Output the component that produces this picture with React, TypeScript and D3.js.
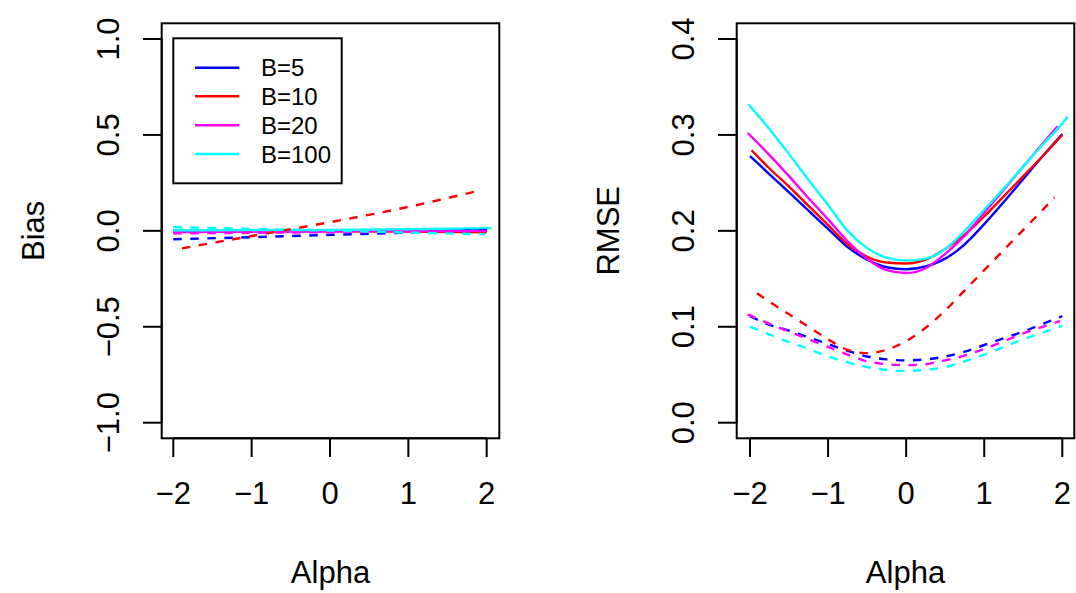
import React from "react";
import * as d3 from "d3";

// ---------- data ----------
const seriesNames = ["B=5", "B=10", "B=20", "B=100"];
const seriesColors = ["#0000ff", "#ff0000", "#ff00ff", "#00ffff"];

const xTicks = [-2, -1, 0, 1, 2];
const biasTicks = [-1, -0.5, 0, 0.5, 1];
const biasTickLabels = ["\u22121.0", "\u22120.5", "0.0", "0.5", "1.0"];
const rmseTicks = [0, 0.1, 0.2, 0.3, 0.4];
const rmseTickLabels = ["0.0", "0.1", "0.2", "0.3", "0.4"];
const xTickLabels = ["\u22122", "\u22121", "0", "1", "2"];

// Bias panel
const biasAlpha = [-2, -1, 0, 1, 2];
const biasAlphaB10Dash = [-1.89, -1, 0, 1, 1.936];
const biasAlphaB100 = [-2, -1, 0, 1, 2.06];
const biasAlphaB100Dash = [-2, -1, 0, 1, 1.98];
const biasSolidB5 = [-0.004, -0.002, 0.0, 0.003, 0.009];
const biasSolidB10 = [0.002, 0.0, -0.002, -0.004, -0.008];
const biasSolidB20 = [-0.006, -0.004, -0.003, -0.002, 0.0];
const biasSolidB100 = [0.003, 0.004, 0.005, 0.008, 0.014];
const biasDashB5 = [-0.044, -0.033, -0.021, -0.009, 0.004];
const biasDashB10 = [-0.091, -0.027, 0.045, 0.125, 0.213];
const biasDashB20 = [-0.013, -0.01, -0.007, -0.004, -0.001];
const biasDashB100 = [0.02, 0.01, 0.001, -0.009, -0.018];

// RMSE panel
const grid = [-2, -1.75, -1.5, -1.25, -1, -0.75, -0.5, -0.25, 0, 0.25, 0.5, 0.75, 1, 1.25, 1.5, 1.75, 2];
const gridB10 = [-1.98, -1.75, -1.5, -1.25, -1, -0.75, -0.5, -0.25, 0, 0.25, 0.5, 0.75, 1, 1.25, 1.5, 1.75, 2];
const gridB20 = [-2.03, -1.75, -1.5, -1.25, -1, -0.75, -0.5, -0.25, 0, 0.25, 0.5, 0.75, 1, 1.25, 1.5, 1.75, 1.94];
const gridB100 = [-2.02, -1.75, -1.5, -1.25, -1, -0.75, -0.5, -0.25, 0, 0.25, 0.5, 0.75, 1, 1.25, 1.5, 1.75, 2, 2.07];
const gridB10Dash = [-1.91, -1.75, -1.5, -1.25, -1, -0.75, -0.5, -0.25, 0, 0.25, 0.5, 0.75, 1, 1.25, 1.5, 1.75, 1.9];
const gridB20Dash = [-2.03, -1.75, -1.5, -1.25, -1, -0.75, -0.5, -0.25, 0, 0.25, 0.5, 0.75, 1, 1.25, 1.5, 1.75, 1.97];

const rmseSolidB5 = [0.278, 0.259, 0.24, 0.221, 0.202, 0.183, 0.17, 0.162, 0.16, 0.163, 0.171, 0.186, 0.207, 0.23, 0.254, 0.278, 0.301];
const rmseSolidB10 = [0.284, 0.265, 0.246, 0.226, 0.206, 0.186, 0.173, 0.167, 0.166, 0.17, 0.181, 0.196, 0.215, 0.236, 0.257, 0.278, 0.3];
const rmseSolidB20 = [0.302, 0.279, 0.257, 0.234, 0.212, 0.189, 0.171, 0.159, 0.156, 0.161, 0.176, 0.195, 0.219, 0.243, 0.267, 0.291, 0.309];
const rmseSolidB100 = [0.332, 0.306, 0.28, 0.253, 0.227, 0.2, 0.182, 0.172, 0.169, 0.171, 0.181, 0.2, 0.222, 0.244, 0.267, 0.29, 0.312, 0.319];
const rmseDashB5 = [0.111, 0.102, 0.096, 0.089, 0.082, 0.075, 0.069, 0.066, 0.065, 0.066, 0.069, 0.074, 0.081, 0.088, 0.095, 0.103, 0.111];
const rmseDashB10 = [0.135, 0.126, 0.113, 0.1, 0.087, 0.076, 0.0725, 0.076, 0.085, 0.099, 0.117, 0.138, 0.159, 0.18, 0.201, 0.222, 0.235];
const rmseDashB20 = [0.113, 0.103, 0.095, 0.087, 0.079, 0.071, 0.064, 0.061, 0.06, 0.061, 0.065, 0.07, 0.077, 0.085, 0.093, 0.1, 0.106];
const rmseDashB100 = [0.1, 0.092, 0.084, 0.077, 0.069, 0.063, 0.058, 0.055, 0.054, 0.055, 0.058, 0.064, 0.071, 0.079, 0.087, 0.094, 0.101];

// ---------- layout ----------
const W = 1076;
const H = 593;
const FONT = "'Liberation Sans', Arial, Helvetica, sans-serif";
const FS = 31;
const LWD = 2.4;
const DASH = "8.5,8.5";

type Panel = {
  left: number; right: number; top: number; bottom: number;
  x: d3.ScaleLinear<number, number>; y: d3.ScaleLinear<number, number>;
};

const pLeft: Panel = {
  left: 161.7, right: 499.3, top: 23.3, bottom: 438.3,
  x: d3.scaleLinear().domain([-2, 2]).range([173.3, 486.7]),
  y: d3.scaleLinear().domain([-1, 1]).range([422.7, 39]),
};
const pRight: Panel = {
  left: 736.7, right: 1074.3, top: 23.3, bottom: 438.3,
  x: d3.scaleLinear().domain([-2, 2]).range([750, 1062.3]),
  y: d3.scaleLinear().domain([0, 0.4]).range([422.7, 39]),
};

function pathFor(p: Panel, xs: number[], ys: number[]) {
  const gen = d3.line<number>().x((_, i) => p.x(xs[i])).y((v) => p.y(v)).curve(d3.curveMonotoneX);
  return gen(ys) || "";
}

type S = { xs: number[]; ys: number[]; color: string; dashed: boolean };

const biasSeries: S[] = [
  { xs: biasAlpha, ys: biasSolidB5, color: seriesColors[0], dashed: false },
  { xs: biasAlpha, ys: biasSolidB10, color: seriesColors[1], dashed: false },
  { xs: biasAlpha, ys: biasSolidB20, color: seriesColors[2], dashed: false },
  { xs: biasAlphaB100, ys: biasSolidB100, color: seriesColors[3], dashed: false },
  { xs: biasAlpha, ys: biasDashB5, color: seriesColors[0], dashed: true },
  { xs: biasAlphaB10Dash, ys: biasDashB10, color: seriesColors[1], dashed: true },
  { xs: biasAlpha, ys: biasDashB20, color: seriesColors[2], dashed: true },
  { xs: biasAlphaB100Dash, ys: biasDashB100, color: seriesColors[3], dashed: true },
];

const rmseSeries: S[] = [
  { xs: grid, ys: rmseSolidB5, color: seriesColors[0], dashed: false },
  { xs: gridB10, ys: rmseSolidB10, color: seriesColors[1], dashed: false },
  { xs: gridB20, ys: rmseSolidB20, color: seriesColors[2], dashed: false },
  { xs: gridB100, ys: rmseSolidB100, color: seriesColors[3], dashed: false },
  { xs: grid, ys: rmseDashB5, color: seriesColors[0], dashed: true },
  { xs: gridB10Dash, ys: rmseDashB10, color: seriesColors[1], dashed: true },
  { xs: gridB20Dash, ys: rmseDashB20, color: seriesColors[2], dashed: true },
  { xs: grid, ys: rmseDashB100, color: seriesColors[3], dashed: true },
];

function PanelView({ p, series, yTicks, yLabels, yTitle, id }: {
  p: Panel; series: S[]; yTicks: number[]; yLabels: string[]; yTitle: string; id: string;
}) {
  const tick = 18.7;
  const yLabX = p.left - 43;
  const yTitleX = p.left - 118;
  const cy = (p.top + p.bottom) / 2;
  const cx = (p.left + p.right) / 2;
  return (
    <g>
      <defs>
        <clipPath id={id}>
          <rect x={p.left} y={p.top} width={p.right - p.left} height={p.bottom - p.top} />
        </clipPath>
      </defs>
      <g clipPath={`url(#${id})`}>
        {series.map((s, i) => (
          <path key={i} d={pathFor(p, s.xs, s.ys)} fill="none" stroke={s.color}
            strokeWidth={LWD} strokeDasharray={s.dashed ? DASH : undefined} />
        ))}
      </g>
      <rect x={p.left} y={p.top} width={p.right - p.left} height={p.bottom - p.top}
        fill="none" stroke="#000" strokeWidth={2} />
      {/* x axis */}
      <line x1={p.x(xTicks[0])} x2={p.x(xTicks[xTicks.length - 1])} y1={p.bottom} y2={p.bottom} stroke="#000" strokeWidth={2} />
      {xTicks.map((t, i) => (
        <g key={i}>
          <line x1={p.x(t)} x2={p.x(t)} y1={p.bottom} y2={p.bottom + tick} stroke="#000" strokeWidth={2} />
          <text x={p.x(t)} y={p.bottom + 66} textAnchor="middle" fontSize={FS} fontFamily={FONT}>{xTickLabels[i]}</text>
        </g>
      ))}
      {/* y axis */}
      <line x1={p.left} x2={p.left} y1={p.y(yTicks[0])} y2={p.y(yTicks[yTicks.length - 1])} stroke="#000" strokeWidth={2} />
      {yTicks.map((t, i) => (
        <g key={i}>
          <line x1={p.left - tick} x2={p.left} y1={p.y(t)} y2={p.y(t)} stroke="#000" strokeWidth={2} />
          <text transform={`translate(${yLabX},${p.y(t)}) rotate(-90)`} textAnchor="middle"
            fontSize={FS} fontFamily={FONT}>{yLabels[i]}</text>
        </g>
      ))}
      <text x={cx} y={p.bottom + 145} textAnchor="middle" fontSize={FS} fontFamily={FONT}>Alpha</text>
      <text transform={`translate(${yTitleX},${cy}) rotate(-90)`} textAnchor="middle"
        fontSize={FS} fontFamily={FONT}>{yTitle}</text>
    </g>
  );
}

function Legend() {
  const x0 = 173.3, y0 = 38.3, x1 = 341.7, y1 = 183.3;
  const rows = [67.7, 96.3, 125.3, 154];
  return (
    <g>
      <rect x={x0} y={y0} width={x1 - x0} height={y1 - y0} fill="#fff" stroke="#000" strokeWidth={2} />
      {seriesNames.map((n, i) => (
        <g key={n}>
          <line x1={195} x2={239.3} y1={rows[i]} y2={rows[i]} stroke={seriesColors[i]} strokeWidth={LWD} />
          <text x={261} y={rows[i] + 8.5} fontSize={24} fontFamily={FONT}>{n}</text>
        </g>
      ))}
    </g>
  );
}

export default function App() {
  return (
    <svg width={W} height={H} style={{ position: "absolute", left: 0, top: 0, background: "#fff" }}>
      <rect x={0} y={0} width={W} height={H} fill="#fff" />
      <PanelView p={pLeft} series={biasSeries} yTicks={biasTicks} yLabels={biasTickLabels} yTitle="Bias" id="clipL" />
      <Legend />
      <PanelView p={pRight} series={rmseSeries} yTicks={rmseTicks} yLabels={rmseTickLabels} yTitle="RMSE" id="clipR" />
    </svg>
  );
}
